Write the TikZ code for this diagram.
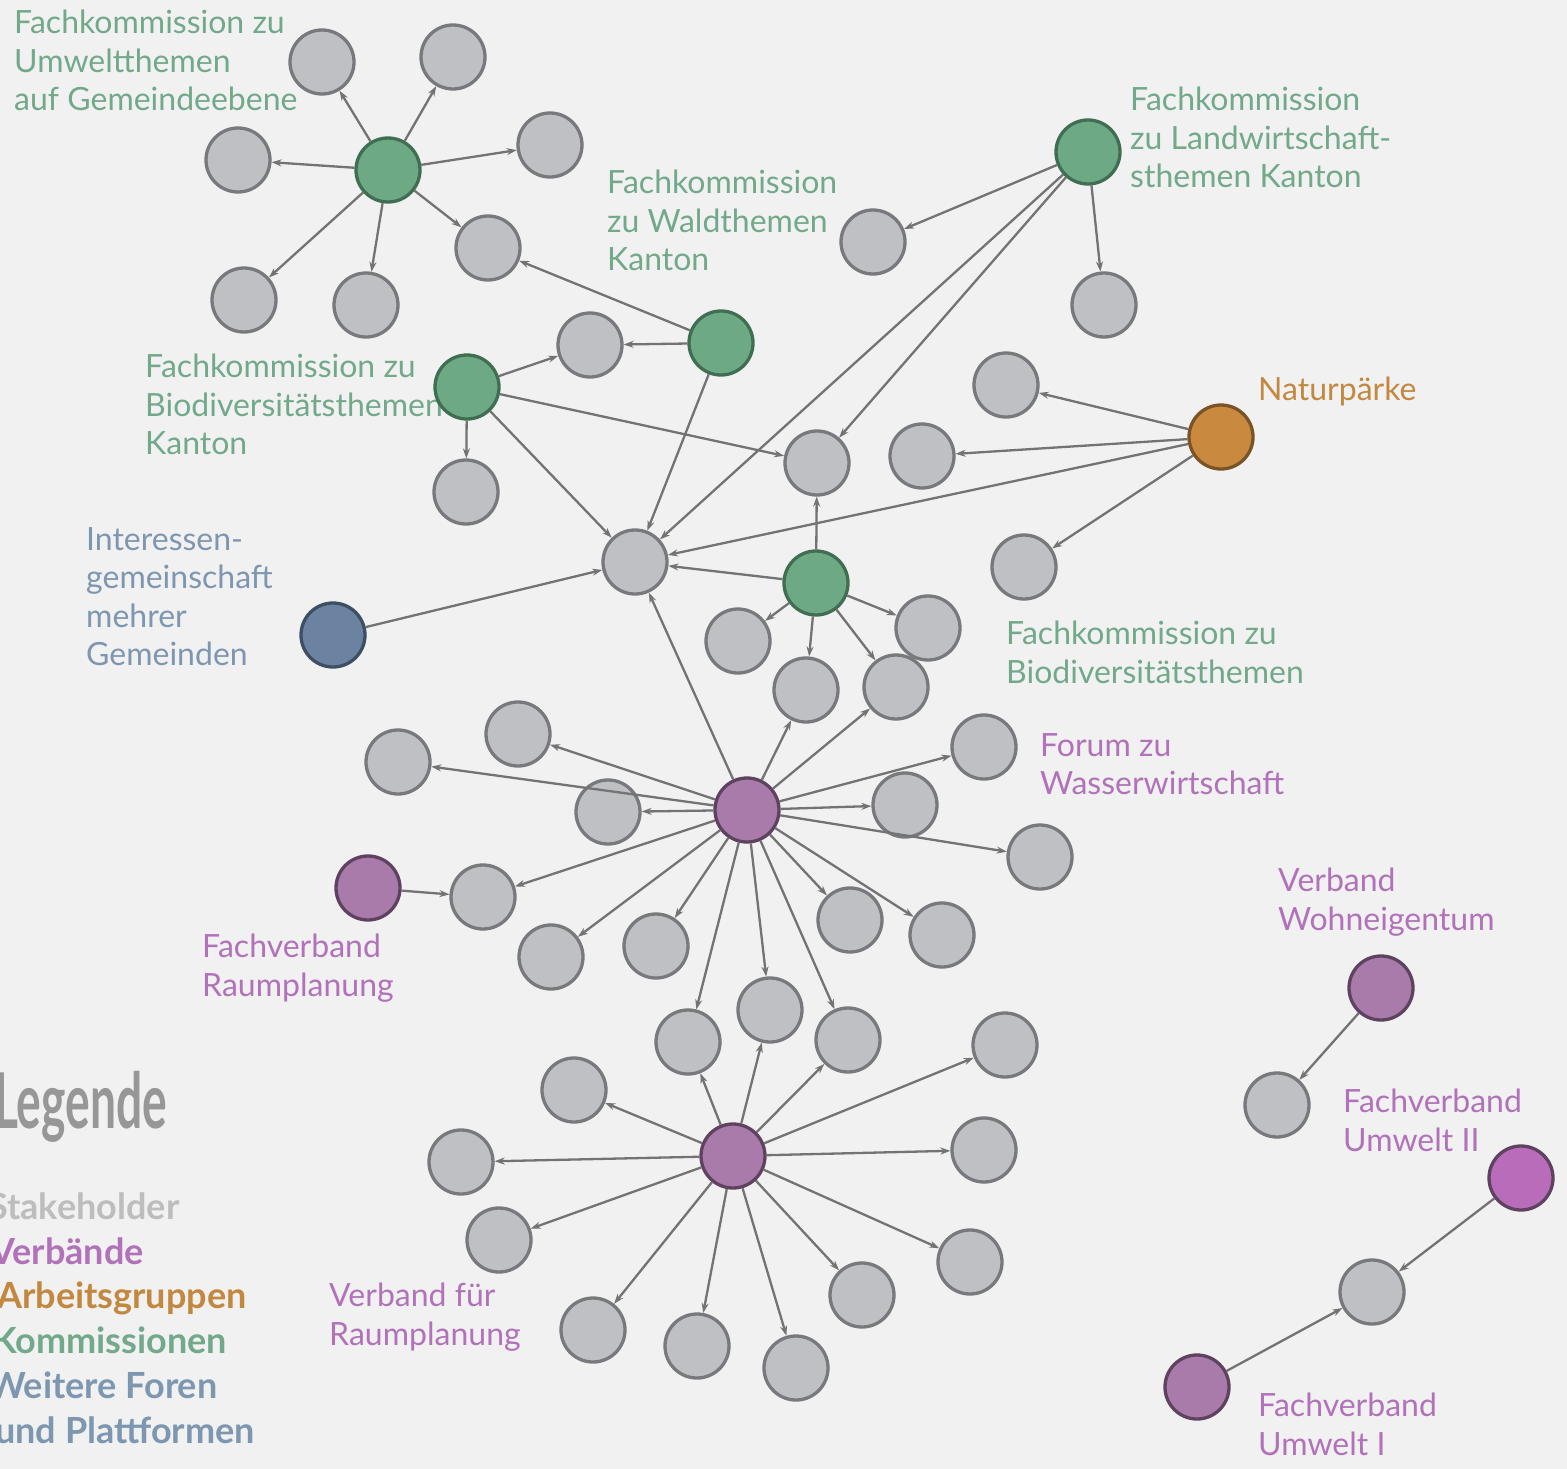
\documentclass[tikz,border=0pt]{standalone}
\usepackage{fontspec}
\setmainfont{Lato}
\usetikzlibrary{arrows.meta}
\definecolor{bg}{HTML}{F1F1F1}
\definecolor{gfill}{HTML}{BEC0C3}
\definecolor{gline}{HTML}{77797C}
\definecolor{kfill}{HTML}{6EA985}
\definecolor{kline}{HTML}{3F6E52}
\definecolor{vfill}{HTML}{A97BAA}
\definecolor{vfilltwo}{HTML}{B86CBA}
\definecolor{vline}{HTML}{5E4260}
\definecolor{afill}{HTML}{C98A40}
\definecolor{aline}{HTML}{7A5426}
\definecolor{bfill}{HTML}{6B83A1}
\definecolor{bline}{HTML}{3E4E63}
\definecolor{edgec}{HTML}{737373}
\definecolor{ktext}{HTML}{72A98A}
\definecolor{vtext}{HTML}{B172BA}
\definecolor{atext}{HTML}{C38840}
\definecolor{btext}{HTML}{7E97B0}
\definecolor{legtitle}{HTML}{979797}
\definecolor{stext}{HTML}{BDBDBD}
\tikzset{
  dot/.style={circle, minimum size=64pt, inner sep=0pt, line width=3.3pt},
  stake/.style={dot, fill=gfill, draw=gline},
  komm/.style={dot, fill=kfill, draw=kline},
  verb/.style={dot, fill=vfill, draw=vline},
  arbg/.style={dot, fill=afill, draw=aline},
  foren/.style={dot, fill=bfill, draw=bline},
  lbl/.style={anchor=north west, inner sep=0pt, align=left, font=\fontsize{32}{38.6}\selectfont},
  leg/.style={anchor=base west, inner sep=0pt, font=\bfseries\fontsize{36}{36}\selectfont},
  link/.style={draw=edgec, line width=2.3pt, -{Stealth[length=10pt,width=7pt]}}
}
\begin{document}
\begin{tikzpicture}[x=1pt,y=-1pt]
\fill[bg] (0,0) rectangle (1567,1469);
\useasboundingbox (0,0) rectangle (1567,1469);

% labels
\node[lbl, text=ktext] (l1) at (14,10) {Fachkommission zu\\Umweltthemen\\auf Gemeindeebene};
\node[lbl, text=ktext] (l2) at (607,170) {Fachkommission\\zu Waldthemen\\Kanton};
\node[lbl, text=ktext] (l3) at (1130,87) {Fachkommission\\zu Landwirtschaft-\\sthemen Kanton};
\node[lbl, text=atext] (l4) at (1258,377) {Naturpärke};
\node[lbl, text=ktext] (l5) at (145,354) {Fachkommission zu\\Biodiversitätsthemen\\Kanton};
\node[lbl, text=btext] (l6) at (86,527) {Interessen-\\gemeinschaft\\mehrer\\Gemeinden};
\node[lbl, text=ktext] (l7) at (1006,621) {Fachkommission zu\\Biodiversitätsthemen};
\node[lbl, text=vtext] (l8) at (1040,733) {Forum zu\\Wasserwirtschaft};
\node[lbl, text=vtext] (l9) at (202,934) {Fachverband\\Raumplanung};
\node[lbl, text=vtext] (l10) at (1278,868) {Verband\\Wohneigentum};
\node[lbl, text=vtext] (l11) at (1343,1089) {Fachverband\\Umwelt II};
\node[lbl, text=vtext] (l12) at (329,1283) {Verband für\\Raumplanung};
\node[lbl, text=vtext] (l13) at (1258,1393) {Fachverband\\Umwelt I};

% legend
\node[anchor=base west, inner sep=0pt, font=\bfseries\fontsize{77}{77}\selectfont, text=legtitle, xscale=0.6] (legt) at (-6,1128) {Legende};
\node[leg, text=stext] (lg1) at (-12,1219) {Stakeholder};
\node[leg, text=vtext] (lg2) at (-10,1264) {Verbände};
\node[leg, text=atext] (lg3) at (-3,1308) {Arbeitsgruppen};
\node[leg, text=ktext] (lg4) at (-8,1353) {Kommissionen};
\node[leg, text=btext] (lg5) at (-12,1398) {Weitere Foren};
\node[leg, text=btext] (lg6) at (-5,1443) {und Plattformen};

% nodes
\node[komm] (k1) at (388,170) {};
\node[stake] (s1a) at (322,62) {};
\node[stake] (s1b) at (453,57) {};
\node[stake] (s1c) at (238,160) {};
\node[stake] (s1d) at (550,145) {};
\node[stake] (s1e) at (488,248) {};
\node[stake] (s1f) at (244,300) {};
\node[stake] (s1g) at (366,305) {};
\node[komm] (k2) at (721,343) {};
\node[stake] (s2a) at (590,345) {};
\node[komm] (k3) at (467,387) {};
\node[stake] (s3a) at (466,492) {};
\node[komm] (k4) at (1088,152) {};
\node[stake] (s4a) at (873,242) {};
\node[stake] (s4b) at (1104,305) {};
\node[arbg] (o1) at (1221,437) {};
\node[stake] (so1) at (1006,385) {};
\node[stake] (so2) at (922,456) {};
\node[stake] (so3) at (1024,567) {};
\node[stake] (c) at (635,562) {};
\node[stake] (s5) at (817,463) {};
\node[komm] (k5) at (816,583) {};
\node[stake] (s6a) at (738,641) {};
\node[stake] (s6b) at (806,690) {};
\node[stake] (s6c) at (896,687) {};
\node[stake] (s6d) at (928,628) {};
\node[foren] (b1) at (333,635) {};
\node[verb] (p1) at (747,810) {};
\node[stake] (t1) at (518,734) {};
\node[stake] (t2) at (398,762) {};
\node[stake] (t3) at (608,812) {};
\node[stake] (t4) at (483,897) {};
\node[stake] (t5) at (551,957) {};
\node[stake] (t6) at (656,946) {};
\node[stake] (t7) at (688,1042) {};
\node[stake] (t8) at (770,1010) {};
\node[stake] (t9) at (848,1040) {};
\node[stake] (t10) at (850,920) {};
\node[stake] (t11) at (942,935) {};
\node[stake] (t12) at (1040,857) {};
\node[stake] (t13) at (905,805) {};
\node[stake] (t14) at (984,747) {};
\node[verb] (fr) at (368,888) {};
\node[verb] (p2) at (733,1156) {};
\node[stake] (u1) at (574,1090) {};
\node[stake] (u2) at (461,1162) {};
\node[stake] (u3) at (499,1240) {};
\node[stake] (u4) at (593,1330) {};
\node[stake] (u5) at (697,1346) {};
\node[stake] (u6) at (796,1368) {};
\node[stake] (u7) at (862,1295) {};
\node[stake] (u8) at (970,1262) {};
\node[stake] (u9) at (984,1150) {};
\node[stake] (u10) at (1005,1045) {};
\node[verb] (v1) at (1381,988) {};
\node[stake] (w1) at (1277,1105) {};
\node[dot, fill=vfilltwo, draw=vline] (pu2) at (1521,1178) {};
\node[stake] (w2) at (1372,1292) {};
\node[verb] (pu1) at (1197,1387) {};

% edges
\foreach \t in {s1a,s1b,s1c,s1d,s1e,s1f,s1g} \draw[link] (k1) -- (\t);
\foreach \t in {s2a,s1e,c} \draw[link] (k2) -- (\t);
\foreach \t in {s2a,s3a,s5,c} \draw[link] (k3) -- (\t);
\foreach \t in {s4a,s4b,c,s5} \draw[link] (k4) -- (\t);
\foreach \t in {so1,so2,c,so3} \draw[link] (o1) -- (\t);
\foreach \t in {s5,c,s6a,s6b,s6c,s6d} \draw[link] (k5) -- (\t);
\draw[link] (b1) -- (c);
\foreach \t in {c,s6b,s6c,t1,t2,t3,t4,t5,t6,t7,t8,t9,t10,t11,t12,t13,t14} \draw[link] (p1) -- (\t);
\draw[link] (fr) -- (t4);
\foreach \t in {t7,t8,t9,u1,u2,u3,u4,u5,u6,u7,u8,u9,u10} \draw[link] (p2) -- (\t);
\draw[link] (v1) -- (w1);
\draw[link] (pu2) -- (w2);
\draw[link] (pu1) -- (w2);
\end{tikzpicture}
\end{document}
